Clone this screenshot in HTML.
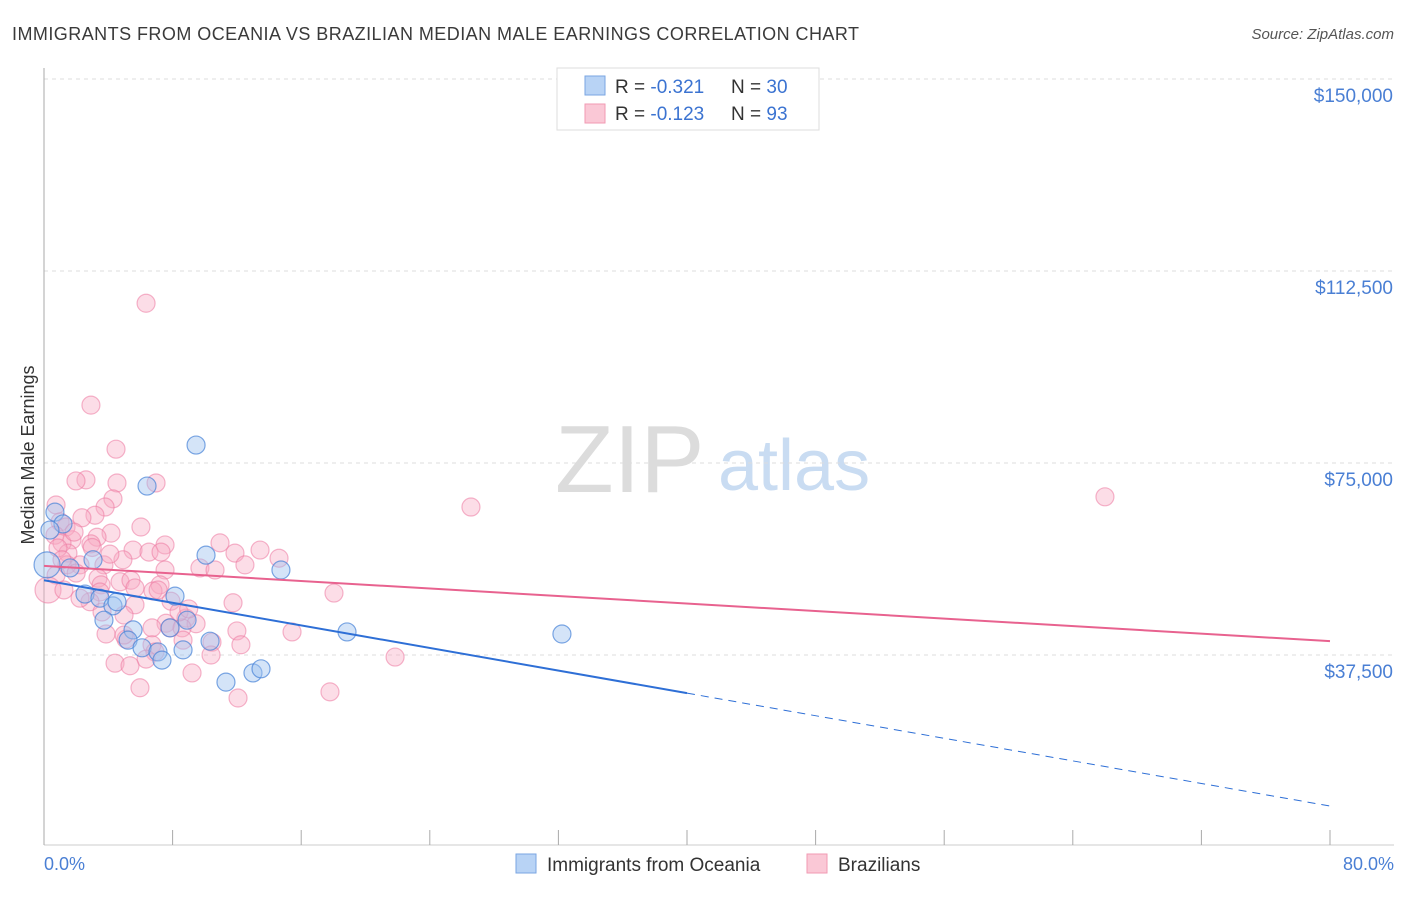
<!DOCTYPE html>
<html><head><meta charset="utf-8"><style>
body{margin:0;background:#fff;font-family:"Liberation Sans",sans-serif}
svg text{font-family:"Liberation Sans",sans-serif}
</style></head><body>
<svg id="chart" width="1406" height="892" xmlns="http://www.w3.org/2000/svg">
<text x="12" y="40" font-size="18" fill="#3a3a3a" textLength="847">IMMIGRANTS FROM OCEANIA VS BRAZILIAN MEDIAN MALE EARNINGS CORRELATION CHART</text>
<text x="1394" y="39" font-size="15" fill="#555" text-anchor="end" font-style="italic">Source: ZipAtlas.com</text>
<g>
<text x="555" y="492" font-size="96" fill="#dcdcdc" font-family="Liberation Serif,serif">ZIP</text>
<text x="718" y="490" font-size="72" fill="#c9dcf2">atlas</text>
</g>
<g id="grid"></g>
<line x1="44" y1="68" x2="44" y2="845" stroke="#aaa"/>
<line x1="44" y1="845" x2="1394" y2="845" stroke="#ccc"/>
<g id="xticks"></g>
<g id="ylabels"></g>
<text transform="translate(34,455) rotate(-90)" font-size="18" fill="#333" text-anchor="middle">Median Male Earnings</text>
<text x="44" y="870" font-size="18" fill="#4a7fd4">0.0%</text>
<text x="1394" y="870" font-size="18" fill="#4a7fd4" text-anchor="end">80.0%</text>
<g id="pts"></g>
<g id="lines"></g>
<g>
<rect x="557" y="68" width="262" height="62" fill="#fff" stroke="#ddd"/>
<rect x="585" y="76" width="20" height="19" fill="#b8d3f5" stroke="#7aa6e2"/>
<rect x="585" y="104" width="20" height="19" fill="#fac8d6" stroke="#f19ab3"/>
<text x="615" y="93" font-size="19" fill="#333">R = <tspan fill="#3b73d1">-0.321</tspan></text>
<text x="731" y="93" font-size="19" fill="#333">N = <tspan fill="#3b73d1">30</tspan></text>
<text x="615" y="120" font-size="19" fill="#333">R = <tspan fill="#3b73d1">-0.123</tspan></text>
<text x="731" y="120" font-size="19" fill="#333">N = <tspan fill="#3b73d1">93</tspan></text>
</g>
<g>
<rect x="516" y="854" width="20" height="19" fill="#b8d3f5" stroke="#7aa6e2"/>
<text x="547" y="871" font-size="19" fill="#333">Immigrants from Oceania</text>
<rect x="807" y="854" width="20" height="19" fill="#fac8d6" stroke="#f19ab3"/>
<text x="838" y="871" font-size="19" fill="#333">Brazilians</text>
</g>
</svg>
<script>
const yTicks=[37500,75000,112500,150000];
const yTickLabels=["$37,500","$75,000","$112,500","$150,000"];
const xTicks=[0,8,16,24,32,40,48,56,64,72,80];
const blueX=[9.46,6.41,0.68,1.18,10.08,1.62,0.19,14.74,3.05,2.55,8.15,3.48,4.29,3.73,5.54,7.84,8.90,5.23,6.10,8.65,10.33,7.09,7.34,18.85,32.22,11.32,13.0,13.5,4.54,0.37];
const blueY=[78.5,70.5,65.4,63.1,57.0,54.5,55.1,54.1,56.1,49.4,49.0,48.6,47.1,44.3,42.4,42.8,44.3,40.4,38.9,38.5,40.2,38.1,36.5,42.0,41.6,32.2,34.0,34.8,47.9,61.9];
const pinkX=[6.35,2.92,4.48,2.61,1.99,4.54,6.97,0.75,4.29,3.8,26.56,66.0,3.17,2.36,1.0,1.37,6.03,4.17,0.68,3.3,1.74,1.12,2.92,7.53,10.95,5.54,6.53,7.28,11.88,13.44,14.62,1.49,4.91,2.24,3.73,7.53,9.7,10.64,0.75,3.36,4.73,5.41,7.22,3.55,0.25,3.48,6.78,7.1,18.04,2.86,5.66,11.76,4.98,3.61,8.83,7.59,9.46,6.72,7.84,8.59,12.0,15.43,3.86,5.1,8.65,10.45,12.25,6.72,6.9,10.39,6.35,21.84,4.42,5.35,9.21,5.97,17.79,12.07,1.43,1.87,0.87,5.66,1.24,4.1,7.9,4.98,2.24,8.4,12.5,1.12,2.0,9.0,3.0];
const pinkY=[106.2,86.3,77.7,71.7,71.5,71.1,71.1,66.8,68.0,66.4,66.4,68.4,64.8,64.3,63.5,62.5,62.5,61.3,60.9,60.5,60.0,59.4,59.2,59.0,59.4,58.0,57.6,57.6,57.4,58.0,56.4,57.4,56.1,55.1,55.1,54.1,54.5,54.1,53.1,52.5,51.8,52.1,51.2,51.2,50.2,49.8,50.0,50.2,49.6,47.9,47.3,47.7,45.3,45.9,44.7,43.7,43.6,42.8,42.8,42.8,42.2,42.0,41.6,40.6,40.4,40.0,39.5,39.5,38.1,37.5,36.7,37.1,35.9,35.4,34.0,31.1,30.3,29.1,55.1,61.5,58.4,50.6,50.2,57.2,48.0,41.4,48.6,45.9,55.1,56.1,53.5,46.5,58.5];
const blueTrend=[52.1,8.0];
const pinkTrend=[54.9,40.2];
const NS="http://www.w3.org/2000/svg";
const xs=p=>44+p*(1286/80);
const ys=v=>655-(v-37500)/37500*192;
function mk(t,a,parent){const e=document.createElementNS(NS,t);for(const k in a)e.setAttribute(k,a[k]);document.getElementById(parent).appendChild(e);return e;}
yTicks.forEach((v,i)=>{
 const l=mk('line',{x1:44,x2:1394,y1:ys(v),y2:ys(v),stroke:'#ddd','stroke-dasharray':'4,4'},'grid');
 
 
 const t=mk('text',{x:1393,y:ys(v)+23,'font-size':19,fill:'#4a7fd4','text-anchor':'end'},'ylabels');
 t.textContent=yTickLabels[i];
 
 
});
xTicks.forEach(p=>{
 const l=mk('line',{x1:xs(p),x2:xs(p),y1:830,y2:845,stroke:'#aaa'},'xticks');
 
 
});
pinkX.forEach((x,i)=>{
 const c=mk('circle',{cx:xs(x),cy:ys(pinkY[i]*1000),r:(x<0.5?13:9),fill:'rgba(248,170,195,0.4)',stroke:'rgba(236,120,160,0.55)','stroke-width':1.2},'pts');
 
 
});
blueX.forEach((x,i)=>{
 const c=mk('circle',{cx:xs(x),cy:ys(blueY[i]*1000),r:(x<0.3?13:9),fill:'rgba(160,196,240,0.45)',stroke:'rgba(70,130,215,0.7)','stroke-width':1.2},'pts');
 
 
});
const bAt=p=>blueTrend[0]+(blueTrend[1]-blueTrend[0])*p/80;
let l1=mk('line',{x1:xs(0),y1:ys(bAt(0)*1000),x2:xs(40),y2:ys(bAt(40)*1000),stroke:'#2e6fd6','stroke-width':2},'lines');


let l2=mk('line',{x1:xs(40),y1:ys(bAt(40)*1000),x2:xs(80),y2:ys(bAt(80)*1000),stroke:'#2e6fd6','stroke-width':1,'stroke-dasharray':'8,6'},'lines');


let l3=mk('line',{x1:xs(0),y1:ys(pinkTrend[0]*1000),x2:xs(80),y2:ys(pinkTrend[1]*1000),stroke:'#e8628f','stroke-width':2},'lines');


</script>
</body></html>
